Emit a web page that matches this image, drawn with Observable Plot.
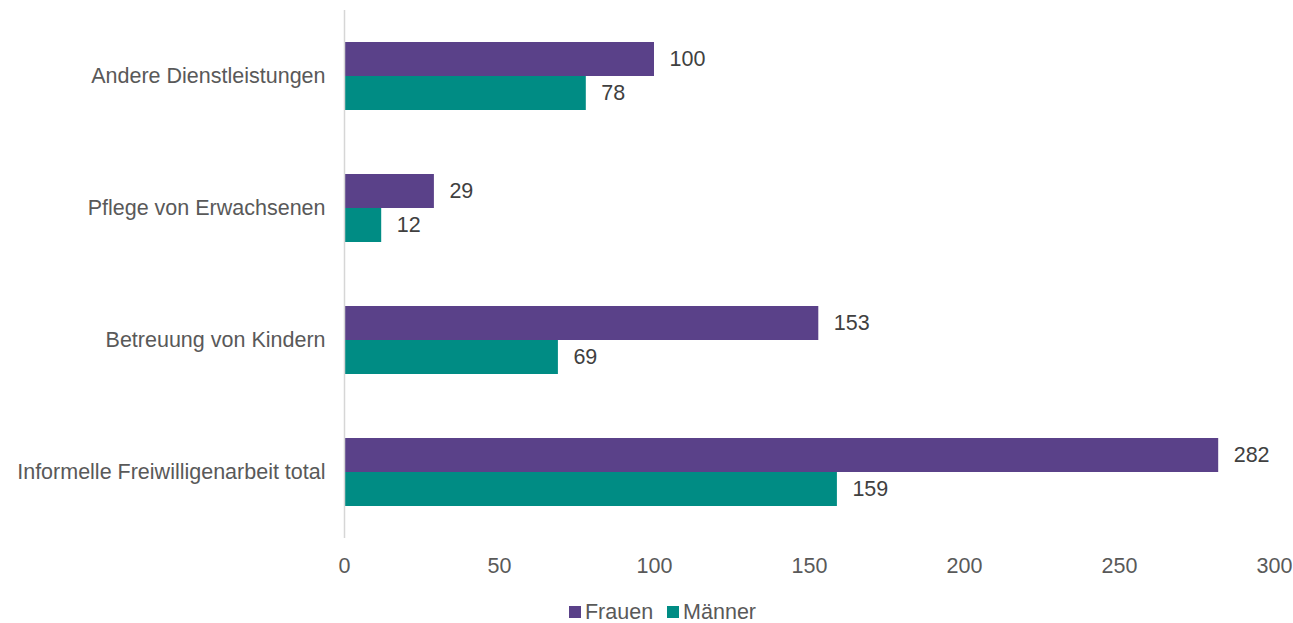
<!DOCTYPE html>
<html>
<head>
<meta charset="utf-8">
<script src="https://cdn.jsdelivr.net/npm/d3@7"></script>
<script src="https://cdn.jsdelivr.net/npm/@observablehq/plot@0.6"></script>
<style>
  html, body { margin: 0; padding: 0; background: #fff; }
  body { width: 1293px; height: 623px; overflow: hidden; font-family: "Liberation Sans", Arial, sans-serif; }
  #chart svg { display: block; }
  #legend { display: flex; justify-content: center; gap: 14px; padding-left: 32px; font-size: 21.5px; line-height: 22px; height: 22px; color: #595959; margin-top: 15px; }
  #legend span.item { display: inline-flex; align-items: center; }
  #legend span.sw { width: 12px; height: 12px; display: inline-block; margin-right: 4px; }
</style>
</head>
<body>
<div id="chart"></div>
<div id="legend"></div>
<script>
const categories = ["Andere Dienstleistungen", "Pflege von Erwachsenen", "Betreuung von Kindern", "Informelle Freiwilligenarbeit total"];
const series = ["Frauen", "Männer"];
const frauen = [100, 29, 153, 282];
const maenner = [78, 12, 69, 159];
const colors = ["#5a4189", "#008c84"];
const xTicks = [0, 50, 100, 150, 200, 250, 300];

const data = [];
categories.forEach((c, i) => {
  data.push({category: c, series: series[0], value: frauen[i]});
  data.push({category: c, series: series[1], value: maenner[i]});
});

const chart = Plot.plot({
  width: 1293,
  height: 586,
  marginTop: 10,
  marginBottom: 48,
  marginLeft: 344,
  marginRight: 19,
  style: {fontFamily: "'Liberation Sans', Arial, sans-serif", fontSize: "21.5px", color: "#595959", background: "#fff"},
  x: {domain: [0, 300], ticks: xTicks, tickSize: 0, tickPadding: 19, label: null},
  y: {domain: series, axis: null, paddingInner: 0, paddingOuter: 0.913},
  fy: {domain: categories, padding: 0, tickSize: 0, tickPadding: 19, label: null},
  color: {domain: series, range: colors},
  marks: [
    Plot.barX(data, {fy: "category", y: "series", x: "value", fill: "series", inset: 0}),
    Plot.ruleX([0], {stroke: "#d6d6d6", strokeWidth: 1.5}),
    Plot.text(data, {fy: "category", y: "series", x: "value", text: d => String(d.value), dx: 15, textAnchor: "start", fill: "#404040", fontSize: 21.5})
  ]
});
document.getElementById("chart").appendChild(chart);

const legend = document.getElementById("legend");
series.forEach((s, i) => {
  const item = document.createElement("span");
  item.className = "item";
  const sw = document.createElement("span");
  sw.className = "sw";
  sw.style.background = colors[i];
  item.appendChild(sw);
  item.appendChild(document.createTextNode(s));
  legend.appendChild(item);
});
</script>
</body>
</html>
